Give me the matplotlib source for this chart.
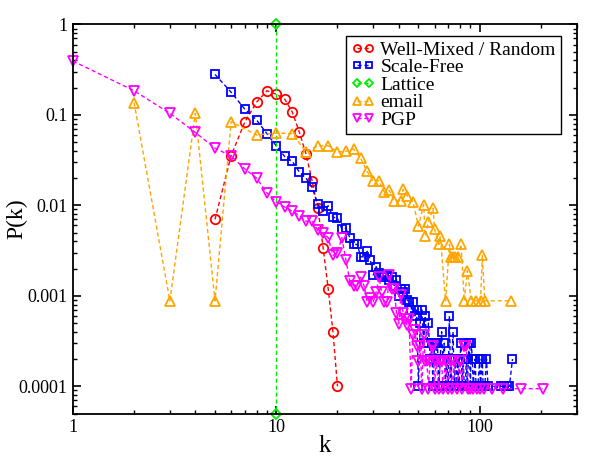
import matplotlib
matplotlib.use('Agg')
import matplotlib.pyplot as plt
from matplotlib.ticker import FixedLocator, FixedFormatter, LogLocator, NullFormatter

plt.rcParams['font.family'] = ['Liberation Serif', 'DejaVu Serif']

# 資料
k_random = [5, 6, 7, 8, 9, 10, 11, 12, 13, 14, 15, 16, 17, 18, 19, 20]
p_random = [0.007, 0.0355, 0.083, 0.138, 0.185, 0.169, 0.150, 0.107,
            0.064, 0.037, 0.0187, 0.0094, 0.0034, 0.0012, 0.0004, 0.0001]

k_sf = [5, 6, 7, 8, 9, 10, 11, 12, 13, 14, 15, 16, 17, 18, 19, 20, 21, 22, 23, 24, 25,
        26, 27, 28, 29, 30, 31, 32, 33, 34, 35, 36, 37, 38, 39, 40, 41, 42, 43, 44, 45,
        46, 47, 48, 49, 50, 51, 52, 53, 54, 55, 56, 57, 58, 59, 60, 61, 62, 63, 64, 65,
        66, 67, 68, 69, 70, 71, 72, 73, 74, 75, 76, 77, 78, 79, 80, 81, 82, 83, 84, 85,
        86, 87, 88, 89, 90, 91, 92, 93, 95, 96, 98, 100, 101, 103, 104, 106, 108, 110,
        128, 132, 136, 140, 145]
p_sf = [0.28, 0.178, 0.116, 0.088, 0.062, 0.0455, 0.0347, 0.0306, 0.0233, 0.020, 0.0158,
        0.0103, 0.0086, 0.0099, 0.0074, 0.0072, 0.0055, 0.0056, 0.0044, 0.0037, 0.0037,
        0.0027, 0.0027, 0.0031, 0.0025, 0.0017, 0.0021, 0.0018, 0.0017, 0.0016, 0.0017,
        0.0015, 0.0016, 0.0013, 0.0015, 0.0010, 0.0012, 0.0011, 0.0012, 0.0009, 0.00085,
        0.0007, 0.00085, 0.0006, 0.0007, 0.0001, 0.0005, 0.0007, 0.0003, 0.0006, 0.0003,
        0.0005, 0.0002, 0.0003, 0.0001, 0.0003, 0.0002, 0.0003, 0.0001, 0.0002, 0.0004,
        0.0002, 0.0003, 0.0001, 0.0002, 0.0001, 0.0006, 0.0001, 0.0002, 0.0004, 0.0001,
        0.0002, 0.0001, 0.0002, 0.0001, 0.0002, 0.0003, 0.0001, 0.0002, 0.0001, 0.0001,
        0.0002, 0.0001, 0.0002, 0.0003, 0.0001, 0.0003, 0.0002, 0.0001, 0.0002, 0.0001,
        0.0001, 0.0002, 0.0001, 0.0002, 0.0001, 0.0001, 0.0002, 0.0001,
        0.0001, 0.0001, 0.0001, 0.0001, 0.0002]

k_lattice = [10, 10]
p_lattice = [1.0, 5e-5]

k_email = [2, 3, 4, 5, 6, 8, 10, 12, 14, 16, 18, 20, 22, 24, 26, 28, 30, 32, 34, 36, 38,
           41, 42, 44, 47, 50, 53, 54, 56, 59, 60, 63, 64, 68, 71, 72, 74, 76, 78, 81,
           84, 87, 91, 96, 101, 103, 106, 143]
p_email = [0.137, 0.00088, 0.104, 0.00088, 0.084, 0.060, 0.063, 0.062, 0.039, 0.0455,
           0.0455, 0.039, 0.0395, 0.042, 0.033, 0.0237, 0.0184, 0.0187, 0.014, 0.0146,
           0.0113, 0.0113, 0.015, 0.0128, 0.011, 0.0059, 0.0102, 0.0046, 0.0065, 0.0093,
           0.0055, 0.0037, 0.0046, 0.00088, 0.0037, 0.0027, 0.0027, 0.0027, 0.0027,
           0.0037, 0.00088, 0.0019, 0.00088, 0.00088, 0.00088, 0.0028, 0.00088, 0.00088]

k_pgp = [1, 2, 3, 4, 5, 6, 7, 8, 9, 10, 11, 12, 13, 14, 15, 16, 17, 18, 19, 20, 21, 22,
         23, 24, 25, 26, 27, 28, 29, 30, 31, 32, 33, 34, 35, 36, 37, 38, 39, 40, 41, 42,
         43, 44, 45, 46, 47, 48, 49, 50, 51, 52, 53, 54, 55, 56, 57, 58, 59, 60, 61, 63,
         64, 65, 66, 68, 70, 72, 73, 75, 77, 80, 82, 84, 86, 88, 90, 93, 97, 100, 105,
         115, 130, 160, 205]
p_pgp = [0.394, 0.185, 0.104, 0.064, 0.043, 0.035, 0.0254, 0.020, 0.0137, 0.0109, 0.0096,
         0.0086, 0.0077, 0.0067, 0.0067, 0.0053, 0.0049, 0.0044, 0.0028, 0.0030, 0.0044,
         0.0025, 0.00145, 0.0013, 0.0013, 0.0016, 0.0013, 0.00086, 0.00094, 0.00086,
         0.0011, 0.0016, 0.0011, 0.00085, 0.00085, 0.0017, 0.0012, 0.0012, 0.00065,
         0.00049, 0.00101, 0.00065, 0.00056, 0.00047, 0.00056, 0.000094, 0.00037,
         0.00042, 0.00028, 0.00019, 0.00028, 0.000094, 0.00037, 0.00019, 0.00019,
         0.000094, 0.00019, 0.00028, 0.00028, 0.000094, 0.00019, 0.000094, 0.00019,
         0.00019, 0.000094, 0.00019, 0.000094, 0.00019, 0.000094, 0.00019, 0.000094,
         0.00019, 0.000094, 0.00028, 0.00028, 0.000094, 0.000094, 0.000094, 0.000094,
         0.000094, 0.000094, 0.000094, 0.000094, 0.000094, 0.000094]

series = [
    (k_random, p_random, 'Well-Mixed / Random', '#ff0000', 'o', 6.8),
    (k_sf, p_sf, 'Scale-Free', '#0000ff', 's', 6.2),
    (k_lattice, p_lattice, 'Lattice', '#00ee00', 'D', 5.0),
    (k_email, p_email, 'email', '#ffa500', '^', 7.2),
    (k_pgp, p_pgp, 'PGP', '#ff00ff', 'v', 7.2),
]

fig = plt.figure(figsize=(6.02, 4.61), dpi=100)
ax = fig.add_axes([0.121, 0.103, 0.837, 0.844])

for k, p, name, c, m, ms in series:
    ax.plot(k, p, color=c, linestyle=(0, (3, 2)), linewidth=1.0, marker=m,
            markersize=ms, markerfacecolor='none', markeredgecolor=c,
            markeredgewidth=1.3, label=name, clip_on=False)

ax.set_xscale('log')
ax.set_yscale('log')
ax.set_xlim(1, 300)
ax.set_ylim(5e-5, 1)

ax.xaxis.set_major_locator(FixedLocator([1, 10, 100]))
ax.xaxis.set_major_formatter(FixedFormatter(['1', '10', '100']))
ax.xaxis.set_minor_locator(LogLocator(base=10, subs=range(2, 10)))
ax.xaxis.set_minor_formatter(NullFormatter())
ax.yaxis.set_major_locator(FixedLocator([1e-4, 1e-3, 1e-2, 1e-1, 1]))
ax.yaxis.set_major_formatter(FixedFormatter(['0.0001', '0.001', '0.01', '0.1', '1']))
ax.yaxis.set_minor_locator(LogLocator(base=10, subs=range(2, 10)))
ax.yaxis.set_minor_formatter(NullFormatter())

ax.tick_params(which='both', direction='in', top=True, right=True, labelsize=13)
ax.tick_params(which='major', length=6, width=1.2, pad=4)
ax.tick_params(which='minor', length=3, width=1.0)
for s in ax.spines.values():
    s.set_linewidth(1.3)

ax.set_xlabel('k', fontsize=18)
ax.set_ylabel('P(k)', fontsize=17)
ax.xaxis.set_label_coords(0.5, -0.055)
ax.yaxis.set_label_coords(-0.09, 0.5)

leg = ax.legend(loc='upper right', bbox_to_anchor=(0.968, 0.970), borderaxespad=0,
                fancybox=False, framealpha=1, edgecolor='black', fontsize=14,
                labelspacing=0.0, handlelength=1.2, handletextpad=0.3,
                borderpad=0.25, numpoints=2, markerscale=0.75)
leg.get_frame().set_linewidth(1.0)

plt.savefig('out.png', dpi=100)
